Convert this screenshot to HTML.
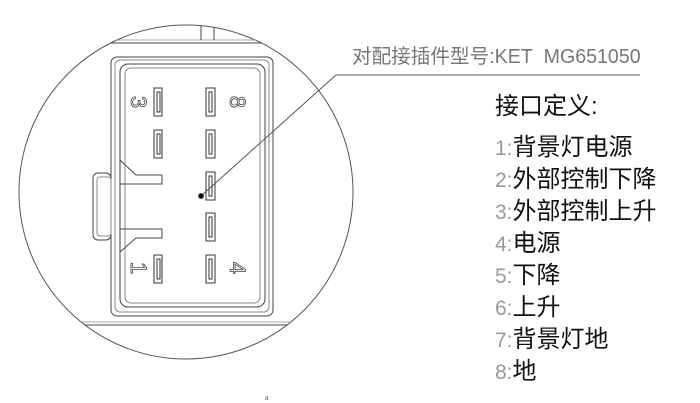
<!DOCTYPE html>
<html><head><meta charset="utf-8"><style>
html,body{margin:0;padding:0;background:#fff;}
body{width:700px;height:403px;overflow:hidden;position:relative;}
.t{position:absolute;font-family:"Liberation Sans","Noto Sans CJK SC",sans-serif;white-space:nowrap;}
.lg{left:495px;font-size:24px;color:#111;line-height:28px;}
.lg span{color:#999;font-size:21px;font-family:"Liberation Sans",sans-serif;}
</style></head><body>
<svg width="700" height="403" style="position:absolute;left:0;top:0" fill="none" stroke="#444" stroke-width="1">
<defs><clipPath id="c"><circle cx="186" cy="192" r="167"/></clipPath></defs>
<circle cx="186" cy="192" r="167" stroke="#555"/>
<g clip-path="url(#c)">
<line x1="0" y1="43" x2="400" y2="43"/><line x1="0" y1="40" x2="400" y2="40" stroke="#aaa"/>
<line x1="0" y1="325" x2="400" y2="325"/><line x1="0" y1="322" x2="400" y2="322" stroke="#aaa"/>
<line x1="201" y1="25" x2="201" y2="40"/><line x1="214" y1="25" x2="214" y2="40"/>
</g>
<rect x="111" y="57" width="162" height="259" rx="6"/>
<rect x="115" y="60" width="154" height="252" rx="5" stroke="#888"/>
<rect x="120" y="64" width="145" height="243" rx="8"/>
<rect x="125" y="68" width="135" height="235" rx="6" stroke="#888"/>
<rect x="93" y="173" width="18" height="67" rx="5"/>
<rect x="97" y="177" width="14" height="59" rx="3" stroke="#888"/>
<path d="M120 160 L136 175 L162 175 L162 184 L120 184"/>
<path d="M120 252 L136 238 L162 238 L162 229 L120 229"/>
<g stroke="#333">
<rect x="154" y="88" width="8" height="28"/><rect x="157" y="92" width="3" height="20"/>
<rect x="154" y="130" width="8" height="28"/><rect x="157" y="134" width="3" height="20"/>
<rect x="154" y="255" width="8" height="28"/><rect x="157" y="259" width="3" height="20"/>
<rect x="206" y="88" width="9" height="28"/><rect x="209" y="92" width="3" height="20"/>
<rect x="206" y="130" width="9" height="28"/><rect x="209" y="134" width="3" height="20"/>
<rect x="206" y="172" width="9" height="28"/><rect x="209" y="176" width="3" height="20"/>
<rect x="206" y="213" width="9" height="28"/><rect x="209" y="217" width="3" height="20"/>
<rect x="206" y="255" width="9" height="28"/><rect x="209" y="259" width="3" height="20"/>
</g>
<g font-family="Liberation Sans" font-size="22" fill="none" stroke="#444" stroke-width="0.8">
<text transform="translate(131,102) rotate(90)" text-anchor="middle">3</text>
<text transform="translate(230,102) rotate(90)" text-anchor="middle">8</text>
<text transform="translate(131,268) rotate(90)" text-anchor="middle">1</text>
<text transform="translate(230,268) rotate(90)" text-anchor="middle">4</text>
</g>
<polyline points="201,196 336,75 640,75" stroke="#555"/>
<circle cx="201" cy="196" r="2.5" fill="#000"/>
<text x="265" y="400" font-size="8" fill="#555" stroke="none">a</text>
</svg>
<div class="t" style="left:352px;top:40px;font-size:20px;color:#777;transform:scaleX(0.98);transform-origin:left;">对配接插件型号:KET&nbsp; MG651050</div>
<div class="t lg" style="top:93px;">接口定义:</div>
<div class="t lg" style="top:134px;"><span>1:</span>背景灯电源</div>
<div class="t lg" style="top:166px;"><span>2:</span>外部控制下降</div>
<div class="t lg" style="top:198px;"><span>3:</span>外部控制上升</div>
<div class="t lg" style="top:230px;"><span>4:</span>电源</div>
<div class="t lg" style="top:262px;"><span>5:</span>下降</div>
<div class="t lg" style="top:294px;"><span>6:</span>上升</div>
<div class="t lg" style="top:326px;"><span>7:</span>背景灯地</div>
<div class="t lg" style="top:358px;"><span>8:</span>地</div>
</body></html>
